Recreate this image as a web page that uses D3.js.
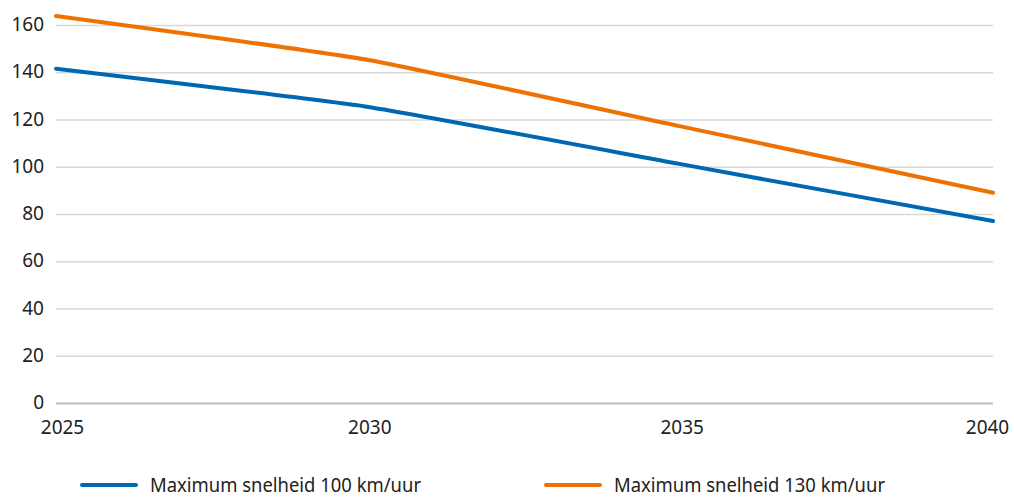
<!DOCTYPE html>
<html><head><meta charset="utf-8">
<script src="https://cdn.jsdelivr.net/npm/d3@7"></script>
<style>body{margin:0;background:#fff}svg{display:block}text{font-family:"Noto Sans",sans-serif;fill:#222}</style>
</head><body><svg id="c" width="1014" height="500"></svg>
<script>
const years = [2025, 2030, 2035, 2040];
const speed100 = [141.5, 125.3, 101.1, 77];
const speed130 = [163.8, 145.2, 117.1, 89];
const yTicks = [0, 20, 40, 60, 80, 100, 120, 140, 160];
const xTicks = [2025, 2030, 2035, 2040];
const seriesNames = ["Maximum snelheid 100 km/uur", "Maximum snelheid 130 km/uur"];
const colors = ["#0068b3", "#ee7203"];

const svg = d3.select("#c");
const x = d3.scaleLinear().domain([2025, 2040]).range([56, 993]);
const y = d3.scaleLinear().domain([0, 160]).range([403, 25]);

const yAxis = svg.append("g").attr("transform", "translate(56,0)")
  .call(d3.axisLeft(y).tickValues(yTicks).tickSize(-937).tickPadding(12));
yAxis.select(".domain").remove();
yAxis.selectAll(".tick line").attr("stroke", "#d9d9d9").attr("stroke-width", 1.5);
yAxis.selectAll(".tick").filter(d => d === 0).select("line").attr("stroke", "#bdbdbd").attr("stroke-width", 2);
yAxis.selectAll(".tick text").attr("font-size", 19).attr("x", -12).attr("dy", "0.3em").attr("fill", "#222");

const xAxis = svg.append("g").attr("transform", "translate(0,403)")
  .call(d3.axisBottom(x).tickValues(xTicks).tickFormat(d3.format("d")).tickSize(0).tickPadding(18));
xAxis.select(".domain").remove();
xAxis.selectAll(".tick text").attr("font-size", 19).attr("fill", "#222")
  .attr("x", d => d === 2025 ? 6 : d === 2040 ? -6 : 1);

const line = d3.line().x((d, i) => x(years[i])).y(d => y(d)).curve(d3.curveCardinal.tension(0.6));
[speed100, speed130].forEach((s, i) => {
  svg.append("path").datum(s).attr("d", line).attr("fill", "none")
    .attr("stroke", colors[i]).attr("stroke-width", 4).attr("stroke-linecap", "round");
});

const legX = [82, 546];
seriesNames.forEach((n, i) => {
  const g = svg.append("g").attr("transform", `translate(${legX[i]},485)`);
  g.append("line").attr("x1", 0).attr("x2", 54).attr("stroke", colors[i]).attr("stroke-width", 4).attr("stroke-linecap", "round");
  g.append("text").attr("x", 68).attr("dy", "0.35em").attr("font-size", 19).attr("textLength", 271).attr("lengthAdjust", "spacingAndGlyphs").text(n);
});
</script></body></html>
